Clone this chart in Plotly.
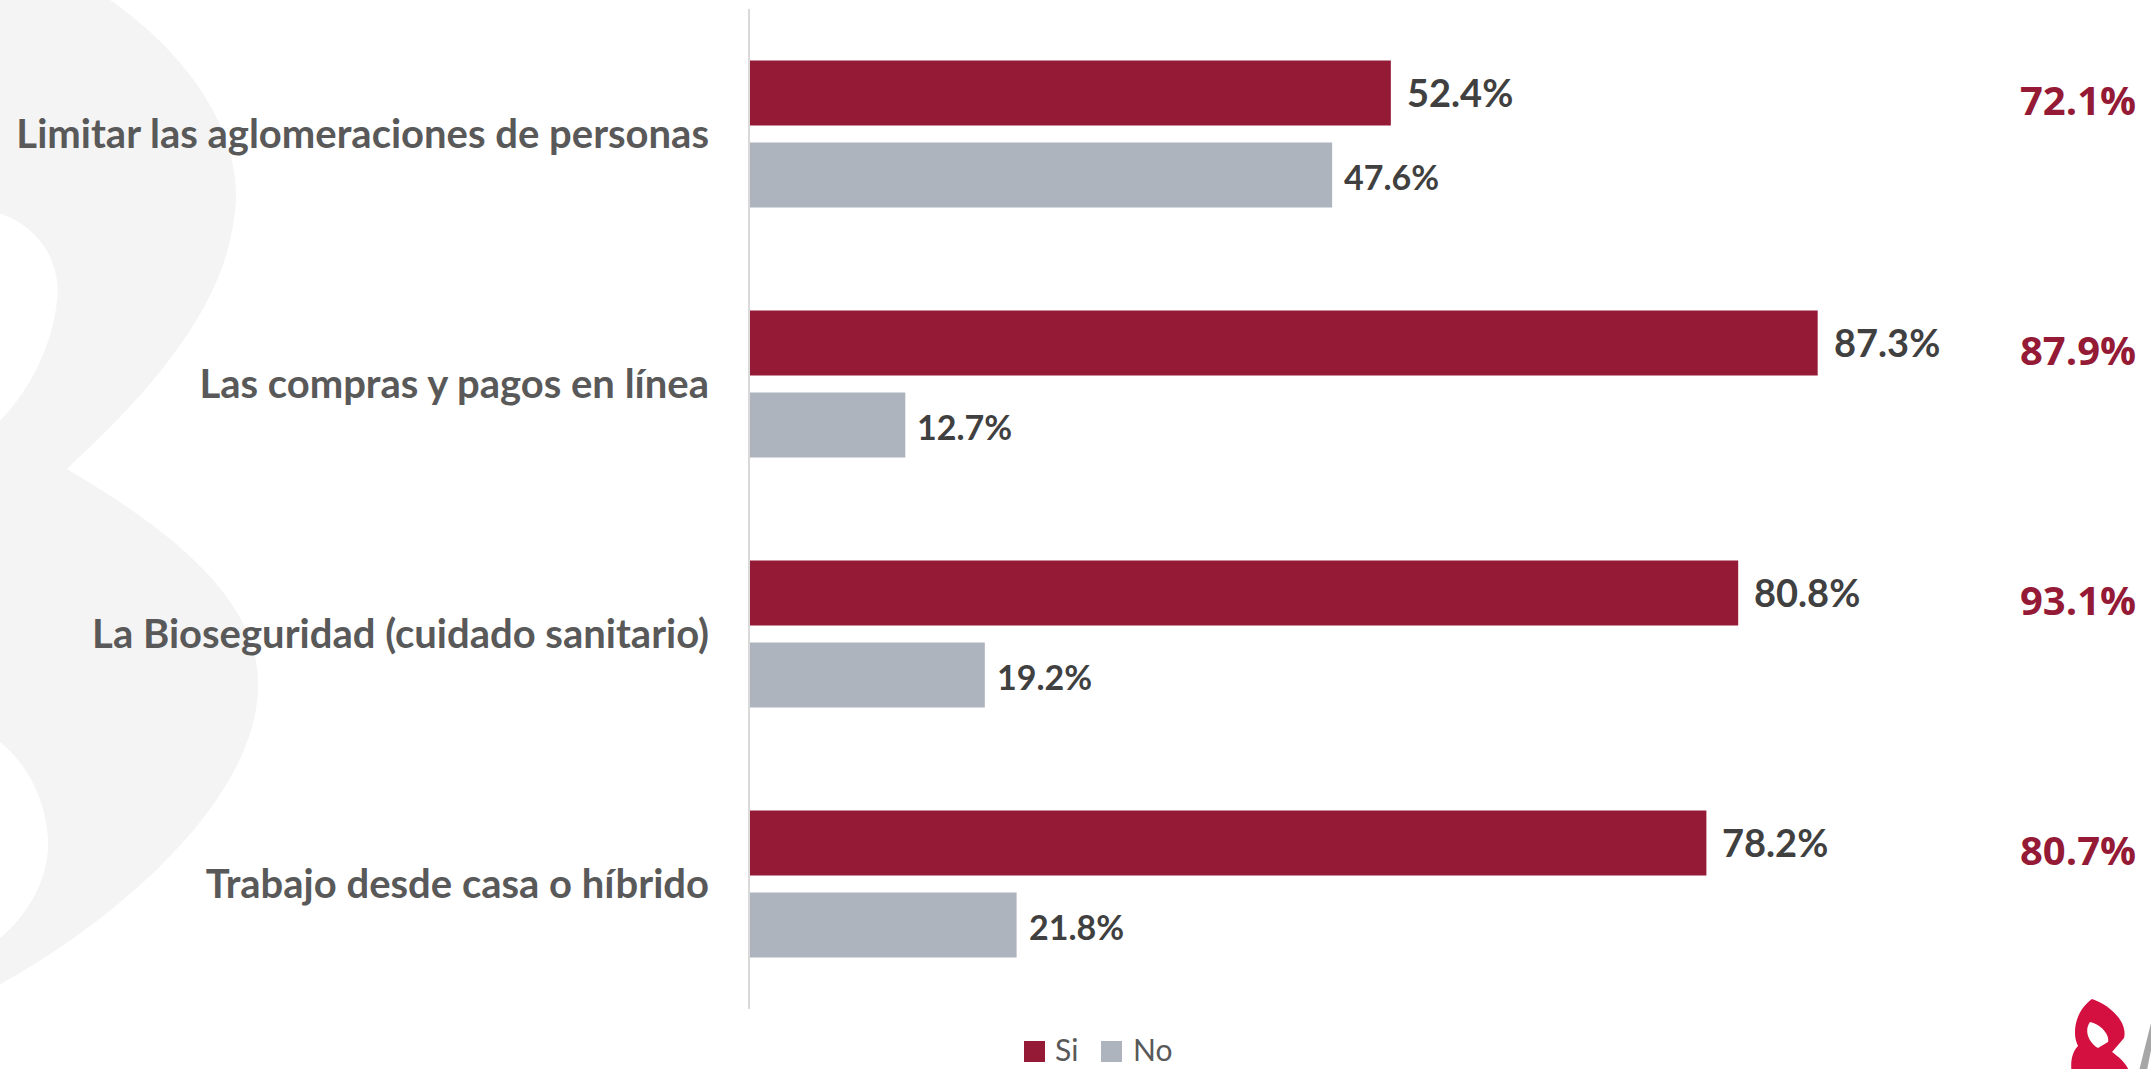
import plotly.graph_objects as go

# ---- data -------------------------------------------------------------
categorias = [
    "Limitar las aglomeraciones de personas",
    "Las compras y pagos en línea",
    "La Bioseguridad (cuidado sanitario)",
    "Trabajo desde casa o híbrido",
]
si_valores = [52.4, 87.3, 80.8, 78.2]
no_valores = [47.6, 12.7, 19.2, 21.8]
si_referencia = [72.1, 87.9, 93.1, 80.7]

# ---- style ------------------------------------------------------------
COLOR_SI = "#941a36"
COLOR_NO = "#aeb4be"
COLOR_CAT = "#595959"
COLOR_VAL = "#404040"
COLOR_MARCA = "#f4f4f4"

WIDTH, HEIGHT = 2151, 1069
M_L, M_R, M_T, M_B = 750, 178, 9, 60
PW = WIDTH - M_L - M_R
PH = HEIGHT - M_T - M_B

BAR_W = 0.26
OFF_SI = -0.294
OFF_NO = 0.034


def to_paper(x, y):
    return (x - M_L) / PW, (M_T + PH - y) / PH


def path(segs):
    parts = []
    for cmd, pts in segs:
        coords = " ".join(f"{a:.4f},{b:.4f}" for a, b in (to_paper(*p) for p in pts))
        parts.append(cmd + coords)
    return " ".join(parts)


fig = go.Figure()

fig.add_trace(go.Bar(
    name="Si", y=categorias, x=si_valores, orientation="h",
    width=BAR_W, offset=OFF_SI, marker=dict(color=COLOR_SI, line=dict(width=0)),
    showlegend=False, hoverinfo="x",
))
fig.add_trace(go.Bar(
    name="No", y=categorias, x=no_valores, orientation="h",
    width=BAR_W, offset=OFF_NO, marker=dict(color=COLOR_NO, line=dict(width=0)),
    showlegend=False, hoverinfo="x",
))

annotations = []
for i, (s, n, r) in enumerate(zip(si_valores, no_valores, si_referencia)):
    annotations.append(dict(
        x=s, y=i + OFF_SI + BAR_W / 2, xref="x", yref="y", text=f"{s:.1f}%",
        xanchor="left", yanchor="middle", xshift=14, yshift=1, showarrow=False,
        font=dict(family="Lato", size=38, weight="bold", color=COLOR_VAL),
    ))
    annotations.append(dict(
        x=n, y=i + OFF_NO + BAR_W / 2, xref="x", yref="y", text=f"{n:.1f}%",
        xanchor="left", yanchor="middle", xshift=10, yshift=-1, showarrow=False,
        font=dict(family="Lato", size=34, weight="bold", color=COLOR_VAL),
    ))
    annotations.append(dict(
        x=to_paper(2078, 0)[0], y=i - 0.14, xref="paper", yref="y", text=f"{r:.1f}%",
        xanchor="center", yanchor="middle", showarrow=False,
        font=dict(family="Open Sans", size=40, weight="bold", color=COLOR_SI),
    ))

# legend drawn as swatches + labels below the plot
shapes = []
legend_items = [("Si", COLOR_SI, 1024, 1055), ("No", COLOR_NO, 1101, 1133)]
for label, color, sx, tx in legend_items:
    x0, y0 = to_paper(sx, 1062)
    x1, y1 = to_paper(sx + 21, 1041)
    shapes.append(dict(type="rect", xref="paper", yref="paper", x0=x0, y0=y0, x1=x1, y1=y1,
                       fillcolor=color, line=dict(width=0)))
    ax, ay = to_paper(tx - 2, 1049)
    annotations.append(dict(
        x=ax, y=ay, xref="paper", yref="paper", text=label, showarrow=False,
        xanchor="left", yanchor="middle",
        font=dict(family="Lato", size=30, color=COLOR_CAT),
    ))

# faint background emblem on the left
marca = [
    ("M", [(-10, -10)]), ("L", [(95, -10)]),
    ("C", [(190, 50), (248, 140), (234, 218)]),
    ("C", [(222, 320), (130, 410), (67, 469)]),
    ("C", [(170, 530), (262, 600), (258, 690)]),
    ("C", [(254, 800), (120, 920), (-10, 990)]), ("Z", []),
    ("M", [(-10, 211)]),
    ("C", [(35, 220), (62, 260), (57, 300)]),
    ("C", [(52, 350), (25, 400), (-10, 430)]), ("Z", []),
    ("M", [(-10, 735)]),
    ("C", [(30, 760), (50, 810), (48, 850)]),
    ("C", [(45, 890), (20, 925), (-10, 946)]), ("Z", []),
]
shapes.append(dict(type="path", xref="paper", yref="paper", path=path(marca),
                   fillcolor=COLOR_MARCA, fillrule="evenodd", line=dict(width=0), layer="below"))

# corner logo
logo = [
    ("M", [(2092, 999)]),
    ("C", [(2110, 1005), (2128, 1022), (2124, 1038)]),
    ("L", [(2112, 1052)]),
    ("C", [(2120, 1058), (2128, 1064), (2130, 1075)]),
    ("L", [(2072, 1075)]),
    ("C", [(2070, 1062), (2072, 1052), (2078, 1046)]),
    ("C", [(2072, 1035), (2074, 1012), (2092, 999)]), ("Z", []),
    ("M", [(2090, 1022)]),
    ("C", [(2100, 1024), (2110, 1034), (2108, 1042)]),
    ("L", [(2098, 1048)]),
    ("C", [(2088, 1042), (2084, 1030), (2090, 1022)]), ("Z", []),
]
shapes.append(dict(type="path", xref="paper", yref="paper", path=path(logo),
                   fillcolor="#d3103f", fillrule="evenodd", line=dict(width=0)))
barra = [("M", [(2138, 1075)]), ("L", [(2153, 1015)]), ("L", [(2153, 1040)]),
         ("L", [(2146, 1075)]), ("Z", [])]
shapes.append(dict(type="path", xref="paper", yref="paper", path=path(barra),
                   fillcolor="#a6a6a6", line=dict(width=0)))

fig.update_layout(
    width=WIDTH, height=HEIGHT,
    margin=dict(l=M_L, r=M_R, t=M_T, b=M_B, pad=0),
    paper_bgcolor="white", plot_bgcolor="rgba(0,0,0,0)",
    barmode="overlay", showlegend=False,
    xaxis=dict(range=[0, 100], visible=False, fixedrange=True),
    yaxis=dict(
        type="category", range=[3.5, -0.5], showgrid=False, zeroline=False,
        showline=True, linecolor="#d9d9d9", linewidth=2, ticks="",
        ticklabelstandoff=31,
        tickfont=dict(family="Lato", size=40, weight="bold", color=COLOR_CAT),
        fixedrange=True,
    ),
    annotations=annotations,
    shapes=shapes,
)

fig.write_html("out.html")
